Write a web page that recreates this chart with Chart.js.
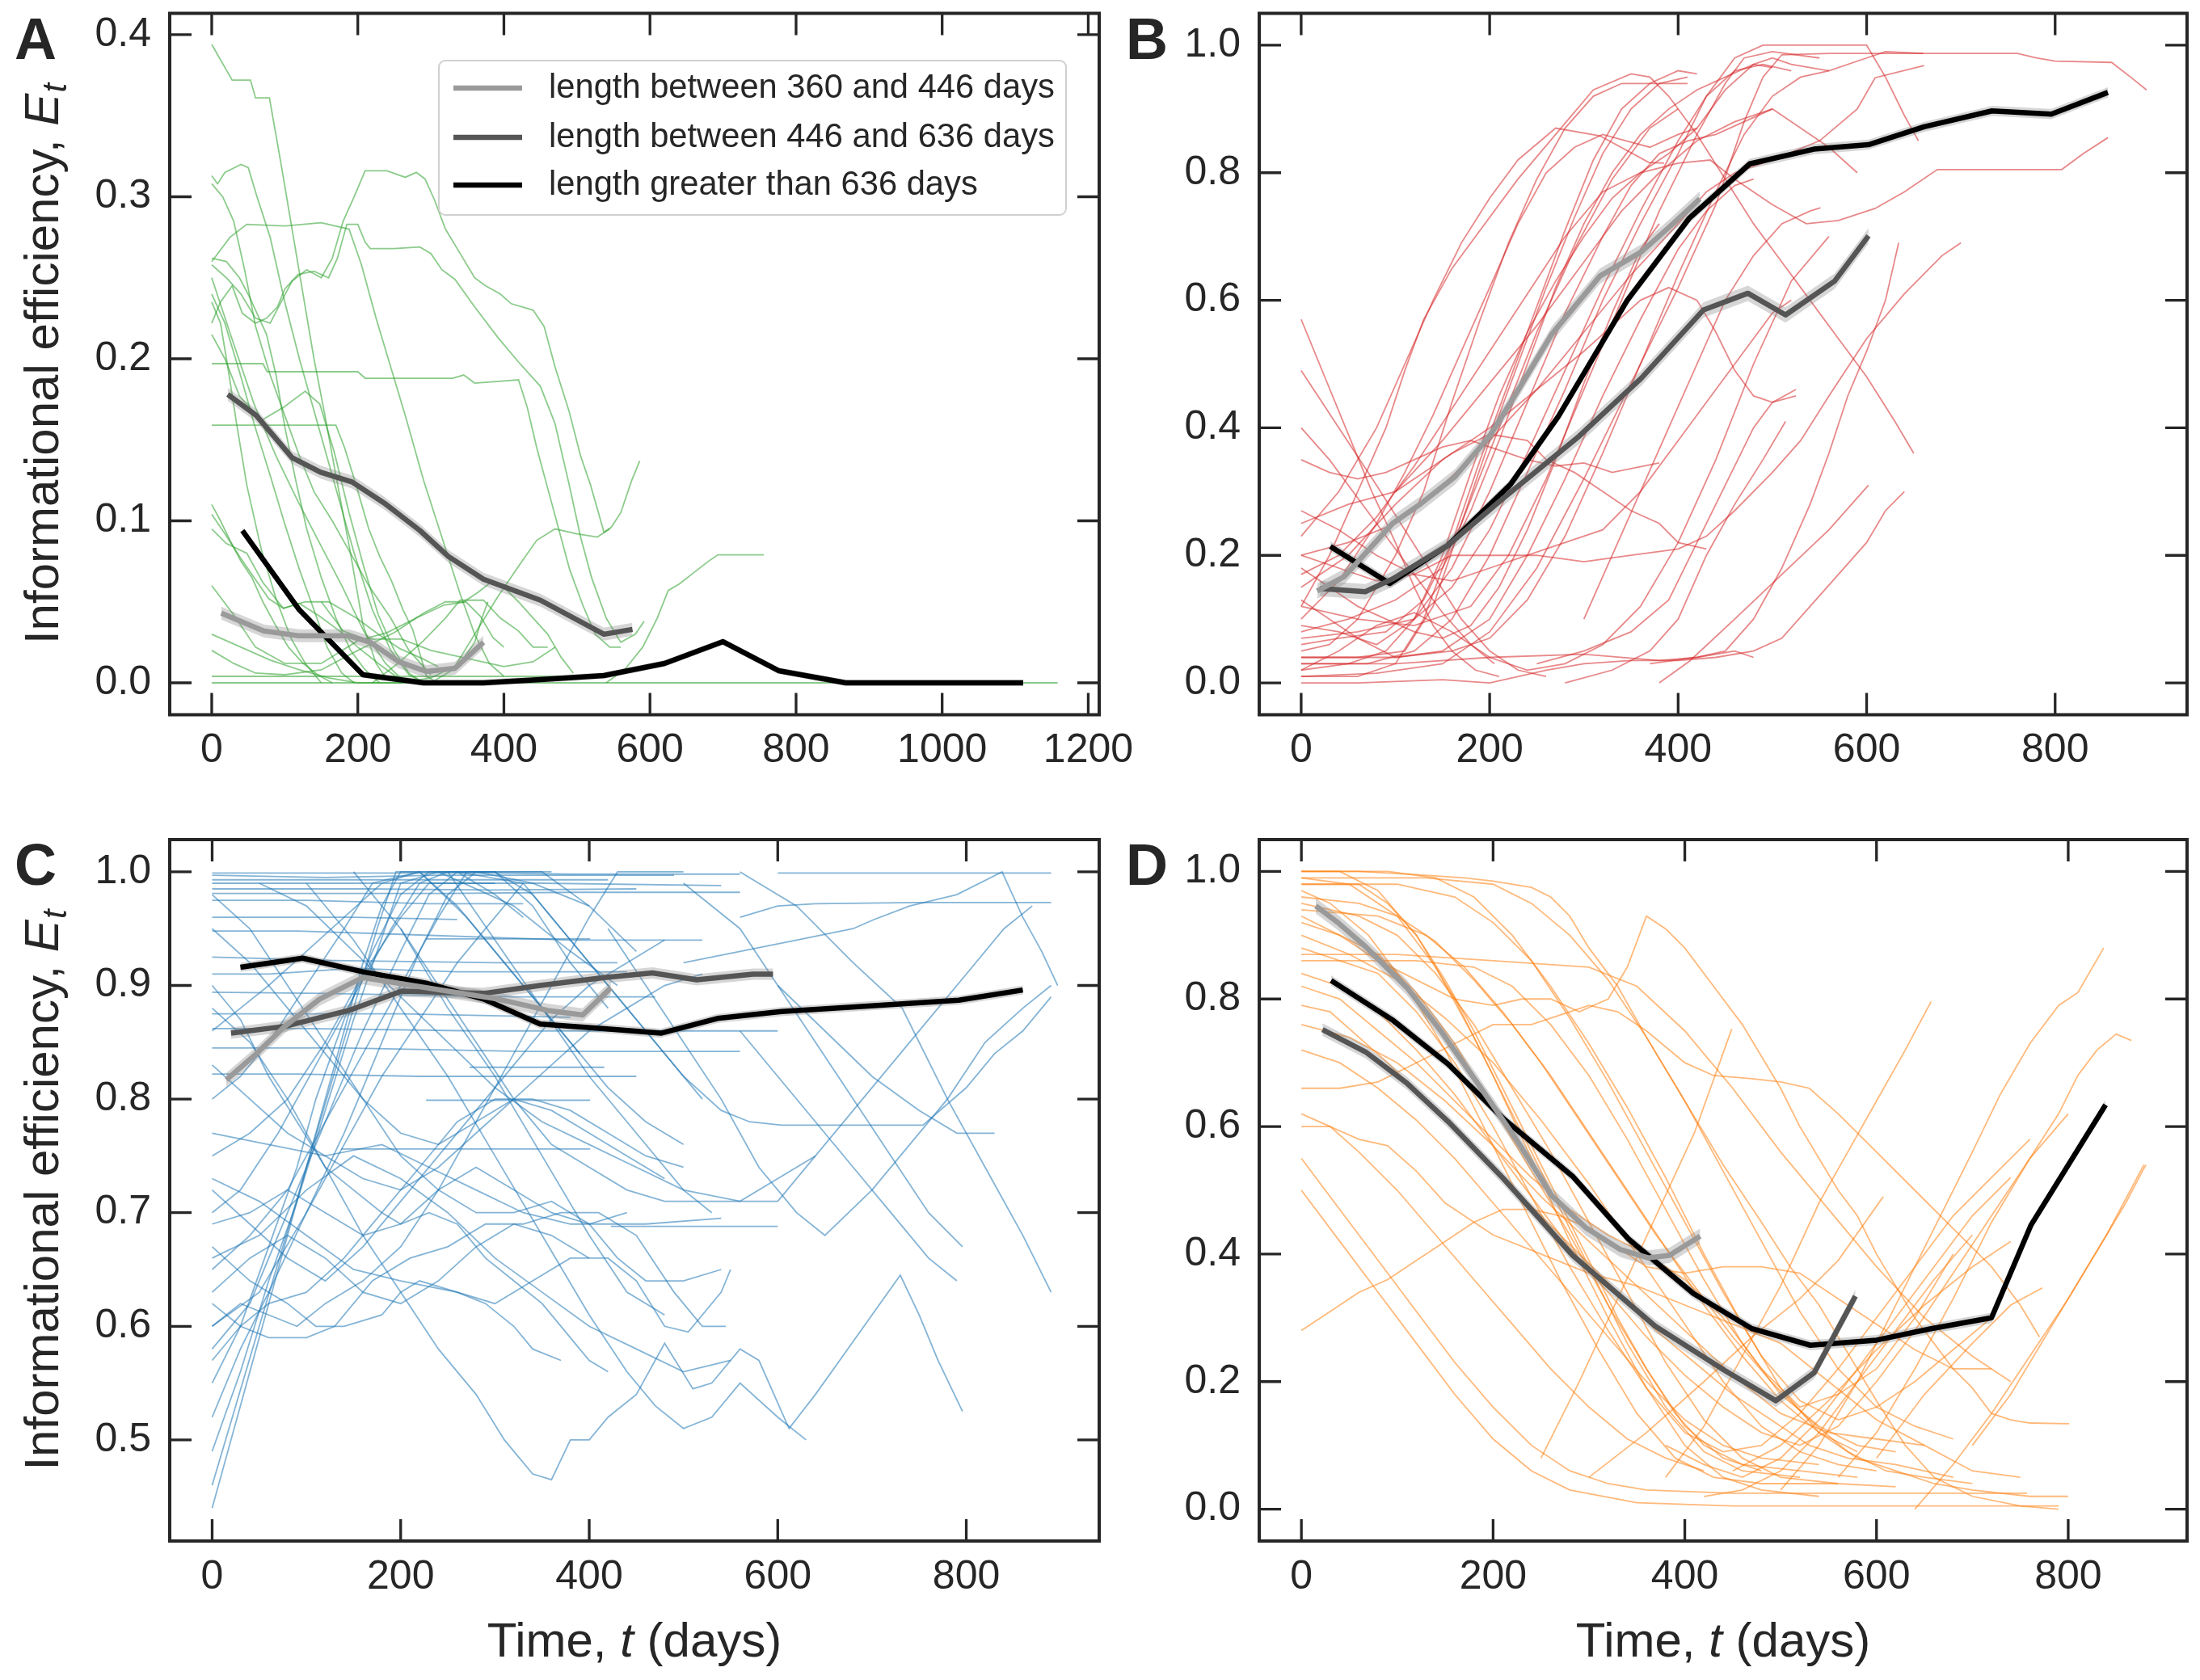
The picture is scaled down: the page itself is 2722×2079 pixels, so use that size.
<!DOCTYPE html>
<html>
<head>
<meta charset="utf-8">
<script src="https://cdn.jsdelivr.net/npm/chart.js@4.4.0/dist/chart.umd.min.js"></script>
<style>
  body { margin: 0; background: #fff; width: 2722px; height: 2079px; position: relative; overflow: hidden; }
  canvas { position: absolute; }
</style>
</head>
<body>
<canvas id="panelA" width="1420" height="1000" style="left:0;top:0"></canvas>
<canvas id="panelB" width="1342" height="1000" style="left:1380px;top:0"></canvas>
<canvas id="panelC" width="1420" height="1079" style="left:0;top:1000px"></canvas>
<canvas id="panelD" width="1342" height="1079" style="left:1380px;top:1000px"></canvas>
<script>
// ---- data: each trace is [t0,E0, t1,E1, ...] ----
var legendLabels = ['length between 360 and 446 days', 'length between 446 and 636 days', 'length greater than 636 days'];
var meanColors = ['#9a9a9a', '#555555', '#000000'];

var xTicksA = [0, 200, 400, 600, 800, 1000, 1200];
var xTicks = [0, 200, 400, 600, 800];
var yTicksA = [0, 0.1, 0.2, 0.3, 0.4];
var yTicksBD = [0, 0.2, 0.4, 0.6, 0.8, 1.0];
var yTicksC = [0.5, 0.6, 0.7, 0.8, 0.9, 1.0];

// panel A means
var aShort = [[13,.043],[71,.032],[120,.029],[188,.029],[217,.025],[256,.013],[294,.007],[333,.009],[372,.025]];
var aMid = [[22,.178],[61,.165],[110,.139],[149,.13],[192,.124],[236,.111],[285,.094],[324,.078],[372,.064],[450,.051],[537,.030],[576,.033]];
var aLong = [[42,.094],[120,.045],[207,.005],[290,0],[372,0],[450,.002],[537,.0045],[620,.012],[700,.0254],[776,.0075],[868,0],[1111,0]];
var ciA = [.004, .004, .002];

// panel B means
var bShort = [[17,.144],[46,.167],[97,.25],[127,.281],[163,.323],[200,.387],[229,.456],[266,.547],[317,.638],[361,.676],[390,.714],[423,.759]];
var bMid = [[20,.148],[68,.143],[97,.163],[156,.216],[214,.289],[295,.387],[361,.478],[427,.585],[474,.611],[514,.577],[566,.63],[602,.701]];
var bLong = [[31,.214],[94,.156],[156,.216],[222,.311],[273,.418],[346,.6],[412,.729],[476,.814],[544,.837],[602,.844],[661,.872],[733,.897],[796,.892],[856,.926]];
var ciB = [.012, .012, .008];

// panel C means
var cShort = [[15,.817],[47,.84],[77,.864],[114,.888],[160,.907],[227,.898],[303,.888],[356,.878],[393,.874],[423,.898]];
var cMid = [[20,.858],[77,.864],[145,.878],[201,.895],[288,.893],[348,.9],[416,.907],[467,.911],[514,.905],[574,.91],[595,.91]];
var cLong = [[30,.916],[96,.924],[160,.912],[227,.902],[288,.888],[348,.866],[416,.862],[476,.858],[536,.871],[604,.877],[679,.881],[792,.887],[860,.896]];
var ciC = [.006, .005, .004];

// panel D means
var dShort = [[15,.946],[38,.92],[67,.882],[110,.818],[146,.749],[182,.672],[225,.578],[261,.492],[297,.441],[333,.407],[362,.394],[384,.398],[416,.428]];
var dMid = [[22,.752],[67,.717],[110,.668],[153,.608],[211,.518],[283,.398],[369,.287],[441,.218],[495,.17],[535,.214],[578,.334]];
var dLong = [[31,.829],[96,.766],[153,.698],[211,.612],[283,.522],[341,.424],[409,.338],[470,.283],[531,.257],[600,.265],[657,.283],[720,.30],[761,.445],[839,.634]];
var ciD = [.012, .01, .008];

var greenTraces = [
  [0,.394, 28,.372, 53,.372, 60,.361, 79,.361, 95,.32, 110,.28, 125,.24, 140,.2, 155,.165, 170,.128, 190,.08, 207,.036, 225,.012, 240,.002, 260,0],
  [0,.313, 8,.308, 18,.315, 40,.32, 50,.318, 62,.30, 80,.275, 100,.235, 120,.2, 145,.16, 170,.12, 195,.08, 220,.045, 245,.02, 270,.005, 290,0],
  [0,.308, 15,.3, 30,.285, 45,.255, 60,.22, 80,.19, 100,.165, 120,.14, 140,.118, 165,.1, 190,.08, 215,.06, 245,.04, 270,.02, 300,.005],
  [0,.258, 20,.25, 40,.24, 60,.225, 80,.222, 95,.235, 110,.248, 130,.255, 150,.25, 165,.262, 180,.285, 195,.3, 210,.316, 240,.316, 265,.312, 280,.315, 292,.311, 305,.298, 320,.28, 340,.265, 360,.25, 375,.245, 395,.24, 410,.234, 440,.23, 455,.22, 470,.195, 489,.168, 505,.14, 518,.123, 537,.093, 547,.096, 560,.105, 575,.125, 586,.137],
  [0,.222, 12,.235, 28,.245, 42,.228, 60,.222, 75,.225, 90,.232, 100,.243, 118,.252, 140,.254, 160,.25, 172,.262, 185,.283, 200,.283, 210,.272, 217,.268, 250,.268, 285,.269, 300,.265, 315,.255, 333,.249, 360,.232, 392,.213, 420,.198, 450,.183, 470,.16, 489,.123, 505,.09, 520,.065, 540,.04, 560,.025, 580,.03, 592,.038],
  [0,.26, 25,.275, 48,.283, 100,.282, 150,.284, 188,.28, 205,.258, 225,.225, 245,.195, 265,.165, 290,.125, 315,.09, 340,.055, 360,.03, 380,.012, 400,.004],
  [0,.197, 70,.197, 76,.192, 200,.192, 210,.188, 330,.188, 345,.19, 360,.185, 390,.186, 420,.187, 432,.17, 445,.145, 460,.12, 475,.095, 490,.07, 508,.048, 525,.03, 545,.022, 560,.022],
  [0,.159, 170,.159, 182,.145, 197,.123, 215,.095, 230,.078, 246,.063, 262,.045, 275,.033, 285,.018, 294,.004, 310,0],
  [0,.11, 12,.1, 25,.088, 40,.075, 55,.065, 70,.05, 88,.035, 105,.022, 125,.012, 145,.005, 165,0],
  [0,.104, 18,.092, 38,.078, 58,.065, 78,.052, 98,.046, 120,.049, 148,.041, 175,.032, 200,.022, 228,.012, 255,.003, 270,0],
  [0,.24, 18,.222, 38,.192, 58,.16, 80,.128, 100,.098, 120,.07, 140,.045, 158,.022, 178,.006, 195,0],
  [0,.25, 28,.212, 58,.172, 88,.14, 118,.112, 148,.086, 178,.06, 208,.032, 238,.012, 265,0],
  [0,.215, 18,.2, 38,.177, 68,.162, 98,.17, 128,.18, 148,.172, 168,.142, 188,.105, 208,.072, 228,.042, 250,.02, 270,.006, 290,0],
  [0,.235, 12,.222, 22,.195, 34,.16, 48,.122, 68,.082, 88,.052, 108,.028, 128,.012, 150,0],
  [0,.262, 20,.26, 38,.25, 52,.238, 62,.228, 75,.215, 88,.19, 100,.158, 115,.125, 130,.095, 150,.065, 170,.04, 190,.02, 210,.008, 230,0],
  [0,.095, 20,.086, 48,.08, 70,.062, 98,.046, 128,.05, 160,.05, 198,.04, 228,.03, 258,.021, 288,.015, 310,.01],
  [0,.02, 30,.012, 60,.006, 100,.005, 150,.008, 200,.02, 250,.031, 290,.043, 320,.05, 345,.05, 365,.056, 382,.062, 402,.058, 420,.05, 440,.04, 460,.03, 478,.016, 495,.006],
  [0,.06, 30,.042, 60,.022, 100,.012, 150,.012, 200,.026, 240,.031, 280,.04, 318,.048, 348,.05, 368,.041, 385,.028, 400,.022],
  [300,0, 330,.008, 360,.03, 390,.052, 420,.072, 445,.088, 470,.095, 500,.092, 528,.09, 545,.095],
  [540,0, 565,.008, 590,.022, 610,.04, 625,.057, 640,.061, 660,.068, 680,.075, 693,.079, 756,.079],
  [0,0, 1158,0],
  [0,.004, 505,.004],
  [150,.05, 180,.032, 210,.027, 260,.027, 300,.02, 350,.015, 400,.01, 440,.013, 470,.022],
  [220,0, 255,.012, 290,.026, 320,.04, 340,.051, 372,.051, 395,.04, 420,.032, 440,.022, 460,.022],
  [0,.03, 40,.022, 80,.014, 120,.008, 160,.003, 200,0, 260,0, 300,.003, 340,.012, 360,.025, 370,.04, 378,.05]
];

var redTraces = [
  [0,.57, 25,.48, 50,.39, 75,.3, 100,.22, 120,.15, 140,.09, 160,.05, 185,.02, 210,.01],
  [0,.49, 40,.4, 80,.31, 110,.24, 140,.17, 170,.1, 200,.05, 230,.02, 260,.01],
  [0,.4, 30,.35, 60,.29, 90,.23, 120,.17, 150,.11, 180,.06, 205,.03],
  [0,.12, 30,.2, 60,.3, 90,.4, 110,.49, 130,.57, 160,.65, 190,.71, 230,.79, 270,.86, 310,.93, 350,.955, 370,.95, 390,.92, 420,.86, 450,.79, 480,.72, 510,.66, 540,.6, 570,.54, 600,.48, 630,.41, 650,.36],
  [0,.23, 40,.3, 80,.4, 110,.5, 140,.6, 170,.69, 200,.76, 230,.82, 270,.87, 317,.858, 369,.816, 385,.815],
  [0,.1, 40,.16, 80,.25, 110,.33, 140,.42, 170,.52, 200,.62, 230,.72, 260,.8, 290,.84, 320,.86, 345,.85, 370,.84, 400,.86, 420,.87],
  [0,.05, 30,.06, 60,.1, 100,.2, 130,.3, 160,.44, 190,.57, 220,.69, 250,.79, 280,.87, 310,.92, 340,.94, 370,.94, 410,.94],
  [0,.02, 50,.03, 90,.05, 120,.1, 150,.2, 180,.33, 210,.45, 240,.55, 270,.63, 300,.7, 330,.76, 360,.8, 390,.83, 420,.87, 450,.93, 480,.97, 500,.98, 520,.97, 560,.96, 600,.98, 620,.99, 660,.987],
  [0,.03, 70,.03, 120,.05, 160,.1, 200,.2, 240,.33, 280,.46, 320,.6, 360,.72, 400,.83, 430,.92, 460,.98, 490,1, 600,1, 620,.95, 640,.89, 655,.85],
  [0,.01, 80,.015, 150,.03, 200,.08, 250,.18, 300,.32, 350,.47, 400,.62, 440,.75, 470,.88, 490,.95, 510,.985, 560,.987, 760,.987, 780,.98, 800,.975, 860,.973, 880,.95, 897,.93],
  [0,.17, 40,.2, 80,.26, 120,.34, 160,.43, 200,.52, 240,.61, 280,.7, 320,.77, 360,.8, 400,.815, 434,.82, 460,.79, 500,.75, 536,.72, 570,.725, 609,.744, 640,.77, 675,.805, 807,.805, 830,.83, 856,.855],
  [0,.2, 50,.22, 100,.25, 150,.31, 200,.38, 250,.46, 300,.55, 350,.64, 400,.72, 430,.77, 460,.8, 500,.82, 550,.85, 590,.9, 609,.949, 661,.968],
  [380,0, 412,.034, 460,.1, 510,.17, 560,.24, 602,.31],
  [280,0, 330,.02, 370,.05, 400,.1, 430,.2, 460,.28, 490,.35, 514,.41],
  [250,.03, 300,.05, 350,.08, 390,.13, 420,.22, 450,.31, 480,.4, 500,.44, 525,.46],
  [370,.03, 420,.04, 450,.05, 480,.1, 510,.18, 540,.28, 560,.36, 580,.45, 600,.52, 620,.6, 634,.69],
  [300,.1, 330,.2, 360,.3, 390,.4, 420,.5, 450,.6, 480,.67, 510,.72, 540,.74, 551,.745],
  [0,.01, 60,.01, 100,.03, 130,.1, 160,.22, 190,.35, 220,.47, 250,.59, 280,.71, 310,.82, 340,.9, 370,.94, 400,.96, 420,.955],
  [0,.04, 60,.04, 110,.05, 140,.12, 170,.25, 200,.38, 230,.5, 260,.62, 290,.73, 320,.83, 350,.9, 380,.94, 410,.95],
  [0,.06, 40,.07, 90,.08, 130,.13, 170,.25, 210,.4, 250,.55, 290,.68, 330,.79, 370,.87, 400,.9],
  [0,.13, 30,.1, 60,.07, 100,.04, 150,.05, 200,.1, 240,.2, 280,.32, 320,.45, 360,.57, 400,.68, 430,.74, 460,.78, 480,.79],
  [0,.09, 40,.08, 80,.06, 120,.1, 160,.18, 200,.3, 240,.44, 280,.58, 320,.7, 350,.78, 380,.83, 410,.85, 440,.86, 470,.88, 500,.9, 530,.87, 560,.84, 590,.8],
  [0,.15, 50,.2, 100,.28, 150,.35, 200,.4, 250,.46, 300,.52, 330,.56, 360,.6, 390,.62, 420,.6, 440,.55, 460,.49, 480,.45, 500,.44, 525,.45],
  [0,0, 60,0, 150,.005, 200,0, 260,.02, 300,.03, 350,.035, 400,.035, 440,.04, 480,.05, 510,.07, 540,.12, 570,.17, 600,.22, 620,.27, 640,.3],
  [0,.03, 100,.03, 200,.04, 300,.045, 380,.035, 420,.04, 460,.05, 480,.04],
  [0,.35, 30,.33, 60,.32, 90,.33, 120,.35, 150,.37, 180,.38, 200,.37, 220,.36, 240,.35, 270,.34, 300,.345, 330,.33, 380,.345],
  [0,.25, 50,.28, 100,.3, 130,.33, 160,.36, 200,.39, 240,.38, 260,.35, 290,.33, 320,.3, 350,.27, 380,.25, 400,.22, 430,.21],
  [0,.2, 40,.18, 80,.16, 120,.17, 160,.2, 250,.2, 300,.19, 350,.2, 400,.21, 430,.23, 460,.27, 500,.33, 530,.38, 560,.45, 600,.54, 640,.61, 680,.67, 700,.69],
  [0,.02, 40,.05, 80,.09, 120,.11, 160,.08, 200,.04, 240,.02, 280,.03, 320,.06, 360,.12, 400,.22, 440,.35, 480,.5, 520,.63, 560,.7],
  [0,.08, 50,.1, 100,.13, 150,.18, 180,.27, 210,.38, 240,.5, 270,.62, 300,.72, 330,.8, 360,.86, 390,.9, 420,.93, 450,.95, 480,.97, 500,.965],
  [0,.18, 30,.15, 60,.12, 90,.1, 120,.08, 150,.07, 180,.09, 210,.15, 240,.24, 270,.35, 300,.47, 330,.58, 360,.68, 380,.72],
  [0,.27, 40,.24, 80,.2, 120,.17, 160,.16, 200,.18, 240,.2, 280,.22, 320,.24, 360,.3, 400,.38, 440,.46, 470,.52, 500,.58, 520,.6],
  [0,.07, 60,.08, 120,.1, 160,.15, 200,.24, 240,.36, 280,.49, 320,.62, 360,.74, 400,.85, 430,.92, 460,.96, 490,.97, 520,.96],
  [0,.12, 60,.1, 120,.09, 180,.12, 220,.2, 260,.32, 300,.46, 340,.6, 380,.74, 420,.86, 450,.94, 470,.98, 500,.99, 550,.98],
  [0,.04, 100,.04, 160,.05, 200,.07, 240,.13, 280,.23, 320,.36, 360,.5, 400,.64, 440,.77, 470,.86, 500,.92, 530,.95, 560,.96],
  [100,.3, 150,.38, 200,.47, 250,.56, 300,.66, 340,.74, 380,.8, 420,.85, 460,.88, 500,.9]
];

var blueTraces = [
  [0,.999, 300,.999, 380,.998, 560,.998],
  [0,.997, 120,.995, 240,.997, 490,.997],
  [0,.993, 200,.993, 420,.993],
  [0,.99, 350,.99, 540,.988],
  [0,.985, 160,.985, 300,.984, 450,.985],
  [0,.981, 250,.981, 380,.982, 560,.982],
  [0,.975, 100,.975, 230,.972, 330,.972],
  [0,.96, 150,.96, 260,.958],
  [0,.948, 90,.948, 200,.945, 380,.94, 520,.94],
  [0,.925, 130,.922, 300,.92, 430,.92],
  [0,.91, 60,.91, 150,.915, 260,.912, 440,.912],
  [0,.894, 120,.893, 320,.89, 470,.89],
  [0,.875, 200,.875, 380,.872],
  [0,.862, 100,.862, 280,.86, 480,.86, 600,.86],
  [0,.845, 140,.845, 330,.842, 560,.842],
  [0,.822, 90,.822, 220,.82, 450,.82],
  [227,.941, 401,.941],
  [227,.799, 401,.799],
  [273,.828, 416,.828],
  [137,.756, 401,.756],
  [423,.688, 600,.688],
  [0,.44, 20,.5, 40,.56, 60,.62, 80,.68, 100,.74, 120,.8, 140,.86, 160,.92, 180,.97, 200,1, 260,1, 300,.98, 330,.96],
  [0,.46, 25,.53, 50,.6, 75,.67, 100,.74, 125,.81, 150,.88, 175,.95, 195,1, 280,1, 340,.99, 400,.97],
  [0,.49, 30,.56, 60,.64, 90,.71, 120,.79, 150,.87, 175,.93, 200,.99, 240,1, 320,.97, 380,.93, 430,.9],
  [0,.55, 30,.6, 60,.67, 90,.74, 110,.8, 140,.87, 170,.93, 200,.98, 230,1, 300,1],
  [0,.58, 40,.62, 80,.7, 120,.78, 160,.86, 200,.93, 230,.98, 260,1, 330,.99, 360,.96, 400,.92, 440,.88, 480,.84, 520,.8],
  [0,.6, 50,.63, 100,.7, 140,.77, 180,.85, 220,.93, 250,.98, 280,1, 350,1, 400,.97, 450,.93],
  [0,.65, 40,.68, 80,.72, 120,.78, 160,.84, 200,.9, 240,.96, 270,1, 360,1],
  [0,.7, 30,.72, 70,.77, 110,.83, 150,.89, 190,.95, 220,.99, 250,1, 300,1, 340,.97, 380,.92, 420,.88],
  [0,.75, 40,.77, 80,.8, 120,.85, 160,.91, 200,.96, 230,.99, 300,.99],
  [0,.8, 30,.82, 60,.85, 100,.9, 140,.95, 170,.99, 220,1, 270,.96, 310,.92, 350,.88, 390,.84],
  [0,.52, 30,.58, 60,.63, 100,.7, 140,.76, 180,.82, 220,.87, 260,.92, 300,.96, 330,.99],
  [0,.6, 30,.62, 60,.61, 90,.6, 120,.62, 160,.64, 200,.67, 240,.72, 280,.78, 320,.84, 360,.9, 400,.96, 430,1, 500,1],
  [0,.98, 40,.95, 80,.9, 120,.85, 160,.8, 200,.75, 240,.72, 280,.7, 320,.7, 360,.71, 400,.69, 430,.66, 460,.64, 500,.64, 540,.65],
  [0,.88, 40,.85, 80,.8, 120,.74, 160,.68, 200,.63, 240,.58, 280,.54, 310,.5, 340,.47, 360,.465, 380,.5, 400,.5, 420,.52, 450,.54, 480,.585, 510,.545, 530,.55, 560,.58, 580,.57, 612,.51, 640,.54, 670,.575, 700,.61, 730,.645, 750,.61, 770,.57, 796,.525],
  [0,.73, 50,.71, 100,.68, 150,.65, 200,.64, 260,.63, 300,.62, 340,.64, 380,.66, 420,.66, 450,.64, 480,.6, 505,.595, 520,.61, 540,.63, 550,.65],
  [200,.95, 240,.9, 280,.85, 320,.8, 360,.76, 400,.74, 440,.72, 480,.71, 600,.71, 640,.75, 680,.79, 720,.83, 760,.87, 800,.91, 840,.95, 870,.97],
  [300,1, 340,.98, 380,.94, 420,.9, 460,.86, 500,.82, 540,.79, 570,.78, 604,.777, 754,.777, 800,.81, 830,.84, 860,.86, 890,.89],
  [420,.95, 460,.9, 500,.85, 540,.8, 580,.74, 620,.7, 650,.68, 700,.72, 740,.76, 780,.8, 820,.85, 860,.88, 890,.9],
  [500,.99, 560,.95, 600,.9, 640,.85, 680,.8, 720,.75, 760,.7, 796,.67],
  [600,.999, 890,.999],
  [560,.96, 600,.97, 640,.972, 747,.973, 890,.973],
  [500,.92, 560,.93, 620,.94, 680,.95, 702,.958, 740,.97, 790,.98, 838,1, 860,.96, 880,.93, 897,.9],
  [560,1, 620,.97, 680,.92, 732,.88, 780,.8, 820,.74, 860,.68, 890,.63],
  [0,.9, 30,.87, 60,.82, 90,.78, 120,.74, 150,.72, 180,.7, 200,.69, 230,.7, 260,.69, 290,.66, 320,.64, 350,.62, 380,.59, 400,.57, 420,.56],
  [0,.67, 40,.64, 80,.62, 110,.6, 140,.6, 180,.61, 200,.63, 220,.64, 260,.63, 290,.62, 320,.6, 340,.58, 370,.57],
  [0,.62, 30,.6, 60,.59, 100,.59, 130,.6, 170,.64, 210,.66, 250,.67, 290,.69, 330,.69, 370,.7, 410,.7, 450,.68, 490,.63, 520,.6, 545,.6],
  [100,.99, 150,.94, 200,.88, 250,.82, 300,.75, 350,.68, 400,.61, 440,.56, 470,.53, 500,.51, 530,.52, 560,.55, 600,.52, 630,.5],
  [150,1, 200,.95, 250,.88, 300,.82, 350,.75, 400,.68, 440,.63, 480,.61],
  [250,1, 300,.94, 350,.88, 400,.82, 450,.77, 500,.72, 530,.7],
  [0,.77, 60,.76, 120,.75, 180,.76, 230,.74, 280,.72, 330,.7, 380,.69, 420,.69, 460,.69, 540,.695],
  [0,.57, 30,.6, 60,.62, 100,.63, 140,.66, 180,.7, 220,.74, 260,.78, 300,.8, 340,.8, 380,.79, 420,.77, 460,.75, 500,.74],
  [0,.69, 40,.7, 80,.72, 120,.7, 160,.68, 200,.69, 240,.72, 280,.74, 320,.72, 360,.7, 400,.69, 440,.7],
  [0,.63, 40,.66, 80,.68, 120,.66, 160,.63, 200,.62, 240,.64, 280,.67, 320,.69, 360,.68, 400,.66],
  [0,.83, 40,.8, 80,.77, 120,.75, 160,.73, 200,.72, 240,.74, 280,.77, 320,.8, 360,.83, 400,.86, 440,.88, 480,.9, 520,.91],
  [0,.95, 40,.92, 80,.88, 120,.84, 160,.8, 200,.77, 240,.76, 280,.78, 320,.8, 360,.79, 400,.77, 440,.75, 480,.73],
  [0,.72, 40,.69, 80,.66, 120,.64, 160,.67, 200,.71, 240,.75, 280,.79, 320,.83, 360,.87, 400,.9, 440,.92, 480,.94],
  [0,.66, 50,.68, 100,.72, 150,.75, 200,.73, 250,.7, 300,.66, 350,.63, 400,.6, 450,.58, 500,.56, 550,.57],
  [0,.86, 30,.88, 60,.9, 100,.93, 140,.96, 180,.99, 220,1, 260,.97, 300,.93, 340,.89, 380,.85, 420,.81, 460,.78, 500,.76],
  [50,.99, 100,.97, 150,.93, 200,.89, 250,.85, 300,.81, 350,.78, 400,.76, 450,.74, 500,.72, 560,.71, 600,.73, 640,.75],
  [560,.86, 600,.82, 640,.78, 680,.74, 720,.7, 760,.66, 790,.64],
  [600,.9, 650,.86, 700,.82, 750,.79, 790,.77, 830,.77]
];

var orangeTraces = [
  [0,1, 60,1, 120,.995, 170,.99, 200,.985, 240,.975, 260,.96, 280,.93, 300,.88, 330,.82, 360,.74, 400,.64, 440,.54, 480,.45, 510,.38, 540,.32, 560,.27, 600,.17, 630,.1, 660,.05, 700,.02, 750,.005, 790,0],
  [0,.93, 40,.9, 80,.86, 120,.83, 160,.8, 200,.79, 230,.8, 260,.8, 290,.78, 320,.8, 340,.85, 350,.89, 360,.93, 380,.91, 400,.88, 420,.84, 440,.8, 460,.76, 480,.71, 500,.66, 520,.6, 540,.55, 560,.5, 580,.46, 600,.4, 620,.35, 640,.3, 660,.26, 680,.22, 700,.19, 720,.15, 740,.14, 760,.135, 801,.134],
  [0,.66, 40,.66, 80,.67, 120,.7, 160,.73, 200,.76, 240,.76, 280,.78, 300,.79, 330,.78, 360,.75, 400,.7, 430,.68, 470,.675, 500,.67, 530,.66, 560,.62, 600,.56, 640,.5, 680,.44, 720,.38, 750,.32, 770,.27],
  [500,.03, 540,.1, 580,.2, 620,.32, 660,.44, 700,.56, 729,.65, 760,.73, 790,.79, 810,.81, 837,.88],
  [560,.05, 600,.12, 640,.22, 680,.33, 720,.45, 760,.55, 790,.62, 810,.68, 830,.72, 850,.745, 866,.735],
  [640,0, 680,.07, 720,.15, 760,.24, 800,.33, 840,.43, 879,.54],
  [380,.05, 420,.13, 460,.24, 500,.35, 540,.48, 570,.56, 600,.64, 630,.72, 657,.796],
  [250,.08, 290,.2, 330,.33, 370,.46, 410,.59, 449,.753],
  [300,.05, 360,.12, 420,.2, 470,.27, 520,.33, 560,.39, 607,.49],
  [600,.08, 650,.18, 700,.26, 740,.32, 773,.347],
  [0,.5, 40,.42, 80,.34, 120,.26, 160,.18, 200,.11, 240,.06, 280,.03, 350,.01, 450,.005, 600,.005, 790,.005],
  [0,.55, 40,.47, 80,.39, 120,.31, 160,.23, 200,.16, 240,.1, 280,.06, 320,.04, 360,.03, 450,.025, 600,.025, 757,.025],
  [0,.28, 30,.31, 60,.34, 90,.36, 120,.39, 150,.42, 180,.45, 210,.47, 240,.47, 270,.46, 300,.44, 330,.41, 360,.38, 400,.37, 440,.38, 480,.38, 520,.37, 560,.33, 600,.29, 640,.25, 680,.22, 720,.22],
  [0,.6, 30,.6, 60,.58, 90,.57, 120,.53, 150,.48, 200,.43, 250,.4, 300,.37, 350,.35, 400,.32, 450,.29, 500,.26, 550,.2, 600,.14, 650,.1, 700,.06, 750,.05],
  [0,.79, 30,.78, 60,.74, 90,.7, 130,.64, 170,.58, 210,.52, 250,.46, 290,.4, 330,.34, 370,.28, 410,.23, 450,.18, 490,.14, 530,.1, 570,.08, 620,.07, 680,.05],
  [0,1, 40,1, 80,.97, 120,.9, 160,.8, 200,.68, 240,.55, 280,.42, 320,.3, 360,.19, 400,.1, 440,.05, 480,.03, 540,.02],
  [0,.99, 50,.98, 100,.93, 140,.85, 180,.74, 220,.62, 260,.5, 300,.38, 340,.26, 380,.16, 420,.09, 460,.06, 520,.05],
  [0,.97, 30,.95, 70,.9, 110,.82, 150,.72, 190,.6, 230,.48, 270,.36, 310,.25, 350,.15, 390,.08, 430,.05, 480,.04, 560,.04],
  [0,.95, 60,.93, 100,.9, 140,.84, 180,.76, 220,.66, 260,.56, 300,.45, 340,.34, 380,.23, 420,.14, 460,.08, 500,.05, 560,.04, 620,.035],
  [0,.92, 40,.9, 80,.87, 120,.81, 160,.73, 200,.63, 240,.53, 280,.43, 320,.32, 360,.22, 400,.13, 440,.08, 480,.06],
  [0,.9, 50,.87, 100,.83, 150,.77, 200,.7, 250,.61, 300,.51, 350,.4, 400,.29, 440,.2, 480,.13, 520,.09, 560,.07, 600,.06],
  [0,.88, 40,.86, 80,.84, 120,.78, 160,.7, 200,.6, 240,.49, 280,.38, 320,.28, 360,.19, 400,.12, 440,.09, 480,.1, 520,.15, 560,.22, 600,.3, 640,.38, 680,.46, 720,.52, 760,.58],
  [0,.86, 60,.86, 120,.86, 180,.85, 220,.82, 260,.76, 300,.68, 340,.58, 380,.47, 420,.36, 460,.26, 500,.18, 540,.13, 580,.1, 620,.09],
  [0,.84, 40,.82, 80,.78, 120,.72, 160,.65, 200,.57, 240,.49, 280,.41, 320,.34, 360,.27, 400,.21, 440,.16, 480,.12, 520,.1, 560,.13, 600,.2, 640,.28, 680,.37, 720,.46, 760,.55, 800,.62],
  [0,1, 90,1, 140,.99, 180,.96, 220,.9, 260,.82, 300,.73, 340,.63, 380,.52, 420,.4, 460,.29, 500,.19, 540,.12, 580,.08, 620,.06, 660,.04, 700,.03, 760,.02, 800,.02],
  [0,.99, 130,.99, 200,.98, 240,.95, 280,.9, 320,.83, 360,.74, 400,.64, 440,.53, 480,.42, 520,.31, 560,.22, 600,.16, 640,.13, 680,.11],
  [0,.98, 100,.98, 160,.96, 200,.92, 240,.86, 280,.77, 320,.67, 360,.56, 400,.45, 440,.34, 480,.24, 520,.17, 560,.14, 600,.16, 640,.2, 680,.25, 720,.3],
  [0,.96, 60,.95, 100,.93, 140,.89, 180,.83, 220,.76, 260,.68, 300,.59, 340,.5, 380,.41, 420,.32, 460,.24, 500,.17, 540,.12, 580,.09],
  [0,.72, 40,.7, 80,.66, 120,.61, 160,.55, 200,.48, 240,.41, 280,.34, 320,.27, 360,.2, 400,.14, 440,.1, 480,.08, 540,.07],
  [0,.62, 30,.6, 60,.56, 100,.5, 140,.43, 180,.36, 220,.29, 260,.22, 300,.16, 340,.11, 380,.08, 420,.06],
  [0,.82, 40,.8, 80,.75, 120,.7, 160,.64, 200,.58, 240,.52, 280,.47, 320,.43, 360,.4, 400,.36, 440,.3, 480,.22, 520,.16, 560,.18, 600,.22, 640,.3, 680,.4],
  [0,.76, 50,.74, 100,.7, 150,.64, 200,.57, 250,.49, 300,.42, 350,.35, 400,.28, 450,.21, 500,.15, 550,.12, 600,.11, 650,.1],
  [0,.94, 80,.93, 130,.9, 170,.85, 210,.78, 250,.7, 290,.61, 330,.52, 370,.43, 410,.35, 450,.27, 490,.2, 530,.14, 570,.09, 610,.06, 650,.05, 700,.04],
  [0,.87, 100,.87, 200,.86, 300,.85, 350,.82, 400,.75, 450,.66, 500,.56, 550,.47, 600,.38, 650,.3, 700,.24, 740,.2],
  [380,.1, 420,.07, 460,.05, 500,.08, 540,.14, 580,.22, 620,.3, 660,.38, 700,.46, 740,.52],
  [420,.02, 460,.03, 500,.06, 540,.12, 580,.2, 620,.28, 660,.36, 700,.43],
  [450,.06, 500,.1, 550,.17, 600,.25, 650,.32, 700,.38, 740,.42],
  [700,.1, 740,.18, 780,.28, 820,.38, 860,.48, 881,.54],
  [0,.98, 60,.98, 90,.95, 120,.9, 150,.83, 180,.75, 210,.66, 240,.57, 270,.48, 300,.39, 330,.3, 360,.22, 390,.15, 420,.1, 460,.07, 520,.06, 580,.05]
];

// ---- drawing ----
var FONT = "'Liberation Sans', Arial, Helvetica, sans-serif";
var INK = '#262626';

function toPoints(flat) {
  var out = [];
  for (var i = 0; i < flat.length; i += 2) out.push({x: flat[i], y: flat[i + 1]});
  return out;
}
function shifted(series, dy) {
  return series.map(function(p){ return {x: p[0], y: p[1] + dy}; });
}

function buildDatasets(traces, color, means, ci) {
  var ds = [];
  traces.forEach(function(t){
    ds.push({data: toPoints(t), borderColor: color, borderWidth: 1.8, order: 3});
  });
  means.forEach(function(m, i){
    ds.push({data: shifted(m, ci[i]), borderWidth: 0, borderColor: 'rgba(0,0,0,0)',
             backgroundColor: 'rgba(120,120,120,0.3)', fill: '+1', order: 2});
    ds.push({data: shifted(m, -ci[i]), borderWidth: 0, borderColor: 'rgba(0,0,0,0)', order: 2});
  });
  means.forEach(function(m, i){
    ds.push({data: shifted(m, 0), borderColor: meanColors[i], borderWidth: 6.5, borderJoinStyle: 'round', order: 1});
  });
  return ds;
}

var decor = {
  id: 'decor',
  afterDraw: function(chart, args, o) {
    var ctx = chart.ctx, a = chart.chartArea;
    var sx = chart.scales.x, sy = chart.scales.y;
    ctx.save();
    ctx.strokeStyle = INK;
    ctx.lineWidth = 3.3;
    var L = 27;
    ctx.beginPath();
    sx.ticks.forEach(function(t){
      var px = sx.getPixelForValue(t.value);
      ctx.moveTo(px, a.bottom); ctx.lineTo(px, a.bottom - L);
      ctx.moveTo(px, a.top); ctx.lineTo(px, a.top + L);
    });
    sy.ticks.forEach(function(t){
      var py = sy.getPixelForValue(t.value);
      ctx.moveTo(a.left, py); ctx.lineTo(a.left + L, py);
      ctx.moveTo(a.right, py); ctx.lineTo(a.right - L, py);
    });
    ctx.stroke();
    ctx.lineWidth = 4;
    ctx.strokeRect(a.left, a.top, a.right - a.left, a.bottom - a.top);

    ctx.fillStyle = INK;
    ctx.textAlign = 'left';
    ctx.textBaseline = 'alphabetic';
    ctx.font = 'bold 72px ' + FONT;
    ctx.fillText(o.letter, o.letterX, a.top + 56);

    if (o.yTitle) {
      var cy = (a.top + a.bottom) / 2;
      var p1 = 'Informational efficiency, ';
      ctx.font = '60px ' + FONT; var w1 = ctx.measureText(p1).width;
      ctx.font = 'italic 60px ' + FONT; var w2 = ctx.measureText('E').width;
      ctx.font = 'italic 42px ' + FONT; var w3 = ctx.measureText('t').width;
      var total = w1 + w2 + w3;
      ctx.save();
      ctx.translate(72, cy);
      ctx.rotate(-Math.PI / 2);
      var x0 = -total / 2;
      ctx.font = '60px ' + FONT; ctx.fillText(p1, x0, 0);
      ctx.font = 'italic 60px ' + FONT; ctx.fillText('E', x0 + w1, 0);
      ctx.font = 'italic 42px ' + FONT; ctx.fillText('t', x0 + w1 + w2 + 1, 10);
      ctx.restore();
    }
    if (o.xTitle) {
      var cx = (a.left + a.right) / 2;
      var q1 = 'Time, ', q3 = ' (days)';
      ctx.font = '60px ' + FONT; var v1 = ctx.measureText(q1).width, v3 = ctx.measureText(q3).width;
      ctx.font = 'italic 60px ' + FONT; var v2 = ctx.measureText('t').width;
      var xs = cx - (v1 + v2 + v3) / 2, by = o.xTitleY;
      ctx.font = '60px ' + FONT; ctx.fillText(q1, xs, by);
      ctx.font = 'italic 60px ' + FONT; ctx.fillText('t', xs + v1, by);
      ctx.font = '60px ' + FONT; ctx.fillText(q3, xs + v1 + v2, by);
    }
    if (o.legend) {
      var bx = 543, by0 = 75, bw = 776, bh = 191, r = 8;
      ctx.beginPath();
      ctx.moveTo(bx + r, by0);
      ctx.arcTo(bx + bw, by0, bx + bw, by0 + bh, r);
      ctx.arcTo(bx + bw, by0 + bh, bx, by0 + bh, r);
      ctx.arcTo(bx, by0 + bh, bx, by0, r);
      ctx.arcTo(bx, by0, bx + bw, by0, r);
      ctx.closePath();
      ctx.fillStyle = 'rgba(255,255,255,0.8)';
      ctx.fill();
      ctx.strokeStyle = '#d0d0d0';
      ctx.lineWidth = 2;
      ctx.stroke();
      var rows = [109, 170, 229];
      ctx.font = '41.7px ' + FONT;
      ctx.textBaseline = 'middle';
      legendLabels.forEach(function(lbl, i){
        ctx.strokeStyle = meanColors[i];
        ctx.lineWidth = 6.5;
        ctx.beginPath(); ctx.moveTo(561, rows[i]); ctx.lineTo(646, rows[i]); ctx.stroke();
        ctx.fillStyle = INK;
        ctx.fillText(lbl, 679, rows[i] + 1);
      });
    }
    ctx.restore();
  }
};

function makePanel(id, c) {
  return new Chart(document.getElementById(id), {
    type: 'line',
    data: { datasets: c.datasets },
    plugins: [decor],
    options: {
      responsive: false,
      animation: false,
      devicePixelRatio: 1,
      events: [],
      layout: { padding: { left: 0, right: c.padR, top: c.padT, bottom: 0 } },
      elements: { point: { radius: 0 }, line: { tension: 0 } },
      plugins: {
        legend: { display: false },
        tooltip: { enabled: false },
        decor: c.decor
      },
      scales: {
        x: {
          type: 'linear', min: c.xMin, max: c.xMax,
          afterBuildTicks: function(s){ s.ticks = c.xTicks.map(function(v){ return {value: v}; }); },
          afterFit: function(s){ s.height = c.xAxisH; s.paddingLeft = 0; s.paddingRight = 0; },
          grid: { display: false, drawTicks: false },
          border: { display: false },
          ticks: { font: { family: FONT, size: 50 }, color: INK, padding: 15, maxRotation: 0, autoSkip: false,
                   callback: function(v){ return String(v); } }
        },
        y: {
          type: 'linear', min: c.yMin, max: c.yMax,
          afterBuildTicks: function(s){ s.ticks = c.yTicks.map(function(v){ return {value: v}; }); },
          afterFit: function(s){ s.width = c.yAxisW; s.paddingTop = 0; s.paddingBottom = 0; },
          grid: { display: false, drawTicks: false },
          border: { display: false },
          ticks: { font: { family: FONT, size: 50 }, color: INK, padding: 23, autoSkip: false,
                   callback: function(v){ return v.toFixed(1); } }
        }
      }
    }
  });
}

makePanel('panelA', {
  datasets: buildDatasets(greenTraces, 'rgba(44,160,44,0.55)', [aShort, aMid, aLong], ciA),
  xMin: -57.5, xMax: 1215, yMin: -0.0197, yMax: 0.4132, xTicks: xTicksA, yTicks: yTicksA,
  padR: 60, padT: 16.5, xAxisH: 115.5, yAxisW: 210,
  decor: { letter: 'A', letterX: 18, yTitle: true, legend: true }
});
makePanel('panelB', {
  datasets: buildDatasets(redTraces, 'rgba(214,39,40,0.55)', [bShort, bMid, bLong], ciB),
  xMin: -44.5, xMax: 940, yMin: -0.05, yMax: 1.05, xTicks: xTicks, yTicks: yTicksBD,
  padR: 16, padT: 16.5, xAxisH: 115.5, yAxisW: 178,
  decor: { letter: 'B', letterX: 13 }
});
makePanel('panelC', {
  datasets: buildDatasets(blueTraces, 'rgba(31,119,180,0.55)', [cShort, cMid, cLong], ciC),
  xMin: -45, xMax: 941, yMin: 0.411, yMax: 1.0284, xTicks: xTicks, yTicks: yTicksC,
  padR: 60, padT: 39, xAxisH: 172, yAxisW: 210,
  decor: { letter: 'C', letterX: 18, yTitle: true, xTitle: true, xTitleY: 1050 }
});
makePanel('panelD', {
  datasets: buildDatasets(orangeTraces, 'rgba(255,127,14,0.55)', [dShort, dMid, dLong], ciD),
  xMin: -44, xMax: 924, yMin: -0.05, yMax: 1.05, xTicks: xTicks, yTicks: yTicksBD,
  padR: 16, padT: 39, xAxisH: 172, yAxisW: 178,
  decor: { letter: 'D', letterX: 13, xTitle: true, xTitleY: 1050 }
});
</script>
</body>
</html>
